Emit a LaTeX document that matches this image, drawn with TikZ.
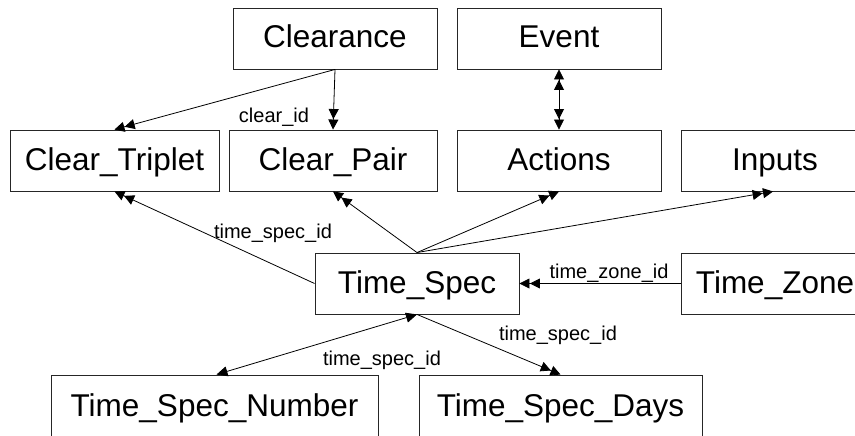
\documentclass[tikz,border=0pt]{standalone}
\usepackage{fontspec}
\setmainfont{Liberation Sans}
\usetikzlibrary{arrows.meta}
\tikzset{
  box/.style={draw=black!85, line width=0.9pt, rectangle, inner sep=0pt,
    minimum height=61pt, text height=24pt, text depth=5pt,
    font=\fontsize{31.5}{36}\selectfont},
  lbl/.style={inner sep=0pt, text height=14pt, text depth=4pt,
    font=\fontsize{20}{24}\selectfont},
  link/.style={line width=0.8pt, black},
  dbl/.tip={Triangle[length=10pt,width=10pt,sep=0.5pt]Triangle[length=10pt,width=10pt]},
  sgl/.tip={Triangle[length=11pt,width=10pt]}
}
\begin{document}
\begin{tikzpicture}[x=1pt,y=-1pt]
\clip (0,0) rectangle (855,436);
\fill[white] (0,0) rectangle (855,436);

% entity boxes
\node[box, minimum width=204pt] (clearance) at (335,38.5) {Clearance};
\node[box, minimum width=204pt] (event) at (559,38.5) {Event};
\node[box, minimum width=209pt] (ctrip) at (114.5,160.5) {Clear\_Triplet};
\node[box, minimum width=208pt] (cpair) at (333,160.5) {Clear\_Pair};
\node[box, minimum width=204pt] (actions) at (559,160.5) {Actions};
\node[box, minimum width=188pt] (inputs) at (775,160.5) {Inputs};
\node[box, minimum width=204pt] (tspec) at (417,283.5) {Time\_Spec};
\node[box, minimum width=188pt] (tzone) at (775,283.5) {Time\_Zone};
\node[box, minimum width=327pt, minimum height=63pt] (tnum) at (214.5,406.5) {Time\_Spec\_Number};
\node[box, minimum width=283pt, minimum height=63pt] (tdays) at (560.5,406.5) {Time\_Spec\_Days};

% relationships
\draw[link, -dbl] (clearance.south) -- (ctrip.north);
\draw[link, -dbl] (clearance.south) -- (cpair.north);
\draw[link, dbl-dbl] (event.south) -- (actions.north);
\draw[link, -dbl] (tspec.west) -- (ctrip.south);
\draw[link, -dbl] (tspec.north) -- (cpair.south);
\draw[link, -dbl] (tspec.north) -- (actions.south);
\draw[link, -dbl] (tspec.north) -- ([xshift=-2pt]inputs.south);
\draw[link, -dbl] (tzone.west) -- (tspec.east);
\draw[link, sgl-sgl] (tspec.south) -- ([xshift=2pt]tnum.north);
\draw[link, -dbl] (tspec.south) -- (tdays.north);

% key labels
\node[lbl] (l1) at (274,118) {clear\_id};
\node[lbl] (l2) at (273,233) {time\_spec\_id};
\node[lbl] (l3) at (609,273) {time\_zone\_id};
\node[lbl] (l4) at (382,360) {time\_spec\_id};
\node[lbl] (l5) at (558,335) {time\_spec\_id};
\end{tikzpicture}
\end{document}
